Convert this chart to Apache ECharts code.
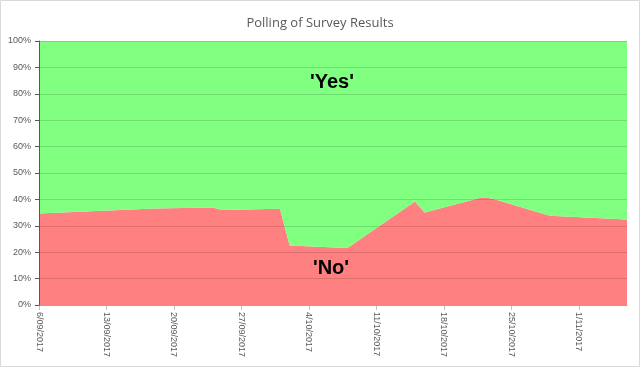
<!DOCTYPE html>
<html>
<head>
<meta charset="utf-8">
<script src="https://cdn.jsdelivr.net/npm/echarts@6/dist/echarts.min.js"></script>
<style>
html,body{margin:0;padding:0;background:#fff;}
#chart{width:640px;height:367px;}
</style>
</head>
<body>
<div id="chart"></div>
<script>
// ---- data ----
const startDate = '2017-09-06';
const endDate = '2017-11-06';
const dates = ['2017-09-06','2017-09-18','2017-09-24','2017-09-25','2017-10-01','2017-10-02','2017-10-08','2017-10-15','2017-10-16','2017-10-22','2017-10-23','2017-10-29','2017-11-06'];
const noValues  = [34.7, 36.6, 36.9, 36.0, 36.5, 22.5, 21.6, 39.2, 35.0, 40.8, 40.3, 33.8, 32.4];
const yesValues = [65.3, 63.4, 63.1, 64.0, 63.5, 77.5, 78.4, 60.8, 65.0, 59.2, 59.7, 66.2, 67.6];
const tickDates = ['2017-09-06','2017-09-13','2017-09-20','2017-09-27','2017-10-04','2017-10-11','2017-10-18','2017-10-25','2017-11-01'];
const tickLabels = ['6/09/2017','13/09/2017','20/09/2017','27/09/2017','4/10/2017','11/10/2017','18/10/2017','25/10/2017','1/11/2017'];

// ---- build ----
const DAY = 86400000;
const dayOf = d => Math.round((Date.parse(d) - Date.parse(startDate)) / DAY);
const tickDays = tickDates.map(dayOf);
const labelMap = {};
tickDays.forEach((d, i) => { labelMap[d] = tickLabels[i]; });

const chart = echarts.init(document.getElementById('chart'), null, {renderer: 'canvas'});
const baseFont = "'Liberation Sans', Arial, sans-serif";
// value first, day second -> the value dimension is the one that gets stacked
const mkData = vals => dates.map((d, i) => [vals[i], dayOf(d)]);
chart.setOption({
  animation: false,
  backgroundColor: '#ffffff',
  title: {
    text: 'Polling of Survey Results',
    left: 'center',
    top: 12,
    textStyle: {fontFamily: "'Open Sans', sans-serif", fontSize: 13, fontWeight: 'normal', color: '#595959'}
  },
  grid: {left: 39, right: 13, top: 41, bottom: 62},
  xAxis: {
    type: 'value',
    min: 0,
    max: dayOf(endDate),
    interval: 7,
    axisLine: {show: true, lineStyle: {color: '#bfbfbf'}},
    axisTick: {show: true, length: 5, lineStyle: {color: '#bfbfbf'}, customValues: tickDays},
    splitLine: {show: false},
    axisLabel: {
      customValues: tickDays,
      rotate: -90,
      margin: 7,
      fontFamily: baseFont,
      fontSize: 9,
      color: '#595959',
      formatter: v => labelMap[v] || ''
    }
  },
  yAxis: {
    type: 'value',
    min: 0,
    max: 100,
    interval: 10,
    z: 5,
    axisLine: {show: true, lineStyle: {color: '#595959'}},
    axisTick: {show: true, inside: false, length: 4, lineStyle: {color: '#595959'}},
    splitLine: {show: true, lineStyle: {color: 'rgba(0,0,0,0.13)', width: 1}},
    axisLabel: {
      margin: 8,
      fontFamily: baseFont,
      fontSize: 9,
      color: '#595959',
      formatter: v => v + '%'
    }
  },
  series: [
    {
      name: 'No',
      type: 'line',
      stack: 'poll',
      symbol: 'none',
      smooth: false,
      lineStyle: {width: 0},
      areaStyle: {color: '#ff8080', opacity: 1},
      encode: {x: 1, y: 0},
      data: mkData(noValues)
    },
    {
      name: 'Yes',
      type: 'line',
      stack: 'poll',
      symbol: 'none',
      smooth: false,
      lineStyle: {width: 0},
      areaStyle: {color: '#80ff80', opacity: 1},
      encode: {x: 1, y: 0},
      data: mkData(yesValues)
    }
  ],
  graphic: [
    {
      type: 'rect', silent: true, z: 100,
      shape: {x: 0.5, y: 0.5, width: 639, height: 366},
      style: {fill: 'none', stroke: '#d9d9d9', lineWidth: 1}
    },
    {
      type: 'text', silent: true, z: 100,
      x: 332, y: 82,
      style: {text: "'Yes'", font: "bold 20px 'Liberation Sans', Arial, sans-serif", fill: '#000', align: 'center', verticalAlign: 'middle'}
    },
    {
      type: 'text', silent: true, z: 100,
      x: 331, y: 268,
      style: {text: "'No'", font: "bold 20px 'Liberation Sans', Arial, sans-serif", fill: '#000', align: 'center', verticalAlign: 'middle'}
    }
  ]
});
</script>
</body>
</html>
